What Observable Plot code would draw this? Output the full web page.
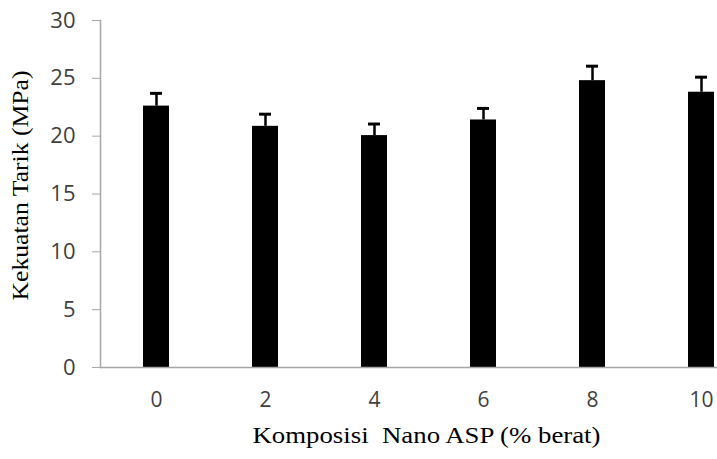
<!DOCTYPE html>
<html>
<head>
<meta charset="utf-8">
<script src="https://cdn.jsdelivr.net/npm/d3@7"></script>
<script src="https://cdn.jsdelivr.net/npm/@observablehq/plot@0.6"></script>
<style>
  html, body { margin: 0; padding: 0; background: #fff; }
</style>
</head>
<body>
<div id="chart"></div>
<script>
const categories = ["0", "2", "4", "6", "8", "10"];
const values = [22.6, 20.85, 20.05, 21.4, 24.8, 23.8];
const errors = [1.1, 1.05, 1.0, 1.0, 1.25, 1.3];
const yTicks = [0, 5, 10, 15, 20, 25, 30];
const xTitle = "Komposisi  Nano ASP (% berat)";
const yTitle = "Kekuatan Tarik (MPa)";

const data = categories.map((c, i) => ({c, v: values[i], e: errors[i]}));
const axisGray = "#a6a6a6";
const labelGray = "#3f3f3f";

const chart = Plot.plot({
  width: 717,
  height: 459,
  marginTop: 20,
  marginBottom: 92,
  marginLeft: 100,
  marginRight: 0,
  style: {fontFamily: "'Open Sans', sans-serif", background: "#fff", overflow: "hidden"},
  x: {domain: categories, range: [101.5, 755.5], paddingInner: 0.76, paddingOuter: 0.38, label: null},
  y: {domain: [0, 30], label: null},
  marks: [
    Plot.frame({anchor: "left", stroke: axisGray, strokeWidth: 1.5}),
    Plot.axisY({ticks: yTicks, tickSize: 8, tickPadding: 17, stroke: axisGray, fontSize: 22, fill: labelGray, label: null}),
    Plot.axisX({tickSize: 0, tickPadding: 25, fontSize: 21, fill: labelGray, label: null}),
    Plot.ruleX(data, {x: "c", y1: "v", y2: d => d.v + d.e, stroke: "#000", strokeWidth: 2.5}),
    Plot.tickY(data, {x: "c", y: d => d.v + d.e, stroke: "#000", strokeWidth: 3, insetLeft: 7, insetRight: 7}),
    Plot.barY(data, {x: "c", y: "v", fill: "#000"}),
    Plot.ruleY([0], {stroke: axisGray, strokeWidth: 1.5}),
    Plot.text([yTitle], {frameAnchor: "bottom-left", dx: -73, dy: -67, rotate: -90, textAnchor: "start", fontSize: 24, fontFamily: "'Liberation Serif', serif", fill: "#000"}),
    Plot.text([xTitle], {frameAnchor: "bottom-left", dx: 152, dy: 75, textAnchor: "start", fontSize: 24, fontFamily: "'Liberation Serif', serif", fill: "#000"})
  ]
});
document.getElementById("chart").appendChild(chart);

// stretch the two titles to the lengths they occupy in the reference
d3.select(chart).selectAll("text").each(function() {
  const t = this.textContent;
  if (t === xTitle) d3.select(this).attr("textLength", 348).attr("lengthAdjust", "spacingAndGlyphs");
  if (t === yTitle) d3.select(this).attr("textLength", 230).attr("lengthAdjust", "spacingAndGlyphs");
});
</script>
</body>
</html>
